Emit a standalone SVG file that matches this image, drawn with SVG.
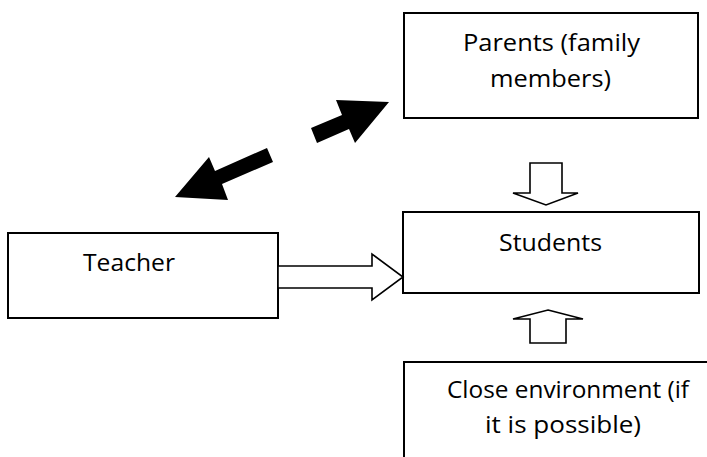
<svg xmlns="http://www.w3.org/2000/svg" width="707" height="457" viewBox="0 0 707 457">
<style>
.box{fill:#fff;stroke:#000;stroke-width:2}
.t{font-family:"Open Sans","Liberation Sans",sans-serif;font-size:24px;fill:#000}
.hollow{fill:#fff;stroke:#000;stroke-width:1.6;stroke-linejoin:miter}
.solid{fill:#000;stroke:none}
</style>
<rect width="707" height="457" fill="#fff"/>
<g id="parents">
<rect class="box" x="404" y="13" width="294" height="105"/>
<text class="t" x="463" y="51" textLength="177" lengthAdjust="spacingAndGlyphs">Parents (family</text>
<text class="t" x="490" y="87" textLength="121" lengthAdjust="spacingAndGlyphs">members)</text>
</g>
<g id="teacher">
<rect class="box" x="8" y="233" width="270" height="85"/>
<text class="t" x="83" y="271" textLength="92" lengthAdjust="spacingAndGlyphs">Teacher</text>
</g>
<g id="students">
<rect class="box" x="403" y="212" width="296" height="81"/>
<text class="t" x="499" y="251" textLength="103" lengthAdjust="spacingAndGlyphs">Students</text>
</g>
<g id="environment">
<path d="M404 457 V362 H707" fill="none" stroke="#000" stroke-width="2"/>
<text class="t" x="447" y="398" textLength="242" lengthAdjust="spacingAndGlyphs">Close environment (if</text>
<text class="t" x="485" y="433" textLength="156" lengthAdjust="spacingAndGlyphs">it is possible)</text>
</g>
<g id="connectors">
<polygon class="solid" points="311,128 342,115 336,100 389,102 355,143 349,129 317,143"/>
<polygon class="solid" points="175,197 209,157 215,171 267,148 273,162 222,184 228,200"/>
<polygon class="hollow" points="278,266 372,266 372,254 403,277 372,300 372,288 278,288"/>
<polygon class="hollow" points="530,163 562,163 562,193 578,193 546,205 513,193 530,193"/>
<polygon class="hollow" points="548,310 583,319 566,319 566,343 530,343 530,319 513,319"/>
</g>
</svg>
